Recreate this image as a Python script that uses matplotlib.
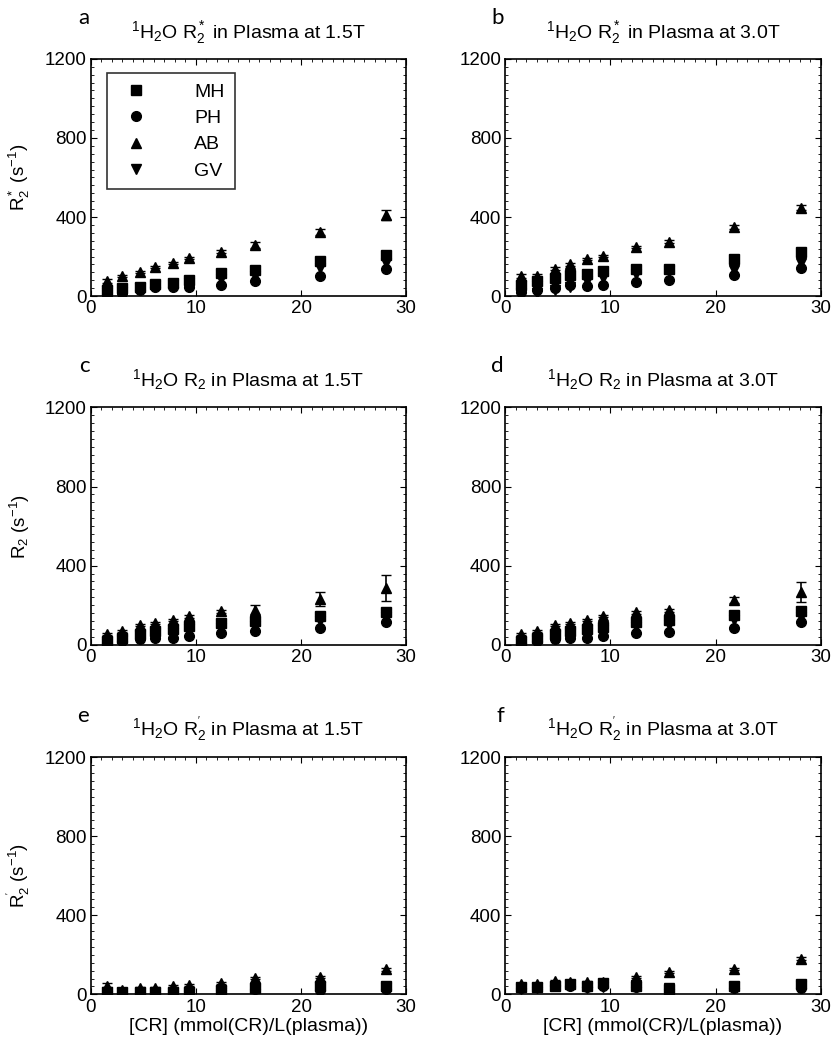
import numpy as np
import matplotlib
matplotlib.use("Agg")
import matplotlib.pyplot as plt
from matplotlib.ticker import MultipleLocator

plt.rcParams['font.family'] = ['Liberation Sans', 'DejaVu Sans']
plt.rcParams['mathtext.fontset'] = 'custom'
plt.rcParams['mathtext.rm'] = 'Liberation Sans'
plt.rcParams['mathtext.it'] = 'Liberation Sans'

# concentration of contrast reagent, mmol(CR)/L(plasma)
conc = [1.5, 3.0, 4.7, 6.1, 7.8, 9.3, 12.4, 15.6, 21.8, 28.1]
groups = ['MH', 'PH', 'AB', 'GV']

# panel a: R2* at 1.5T
a_MH = [31, 40, 48, 60, 65, 83, 117, 134, 177, 206]
a_PH = [5, 17, 31, 45, 45, 48, 57, 77, 100, 138]
a_AB = [74, 103, 120, 146, 169, 191, 225, 260, 323, 409]
a_GV = [14, 22, 40, 52, 57, 65, 86, 103, 143, 169]
a_AB_err = [10, 5, 5, 5, 5, 5, 8, 15, 15, 25]

# panel b: R2* at 3.0T
b_MH = [57, 74, 91, 108, 114, 126, 138, 138, 186, 224]
b_PH = [22, 31, 40, 57, 52, 57, 69, 83, 107, 143]
b_AB = [100, 103, 138, 160, 186, 203, 246, 275, 349, 447]
b_GV = [14, 17, 31, 48, 74, 91, 114, 126, 131, 169]
b_AB_err = [10, 8, 8, 8, 5, 5, 5, 8, 10, 12]

# panel c: R2 at 1.5T
c_MH = [17, 35, 52, 69, 78, 95, 112, 121, 147, 164]
c_PH = [9, 17, 29, 35, 35, 43, 57, 69, 86, 116]
c_AB = [52, 69, 98, 109, 126, 143, 168, 173, 233, 285]
c_GV = [12, 26, 43, 52, 60, 78, 86, 95, 121, 138]
c_AB_err = [5, 5, 5, 5, 5, 8, 10, 30, 35, 65]

# panel d: R2 at 3.0T
d_MH = [17, 35, 55, 69, 80, 92, 115, 125, 150, 168]
d_PH = [9, 17, 29, 35, 35, 43, 57, 66, 86, 116]
d_AB = [52, 69, 98, 112, 126, 143, 164, 173, 225, 268]
d_GV = [12, 26, 43, 52, 60, 75, 90, 100, 125, 140]
d_AB_err = [5, 5, 5, 5, 5, 5, 8, 10, 15, 50]

# panel e: R2' at 1.5T
e_MH = [14, 14, 10, 10, 14, 14, 22, 31, 40, 40]
e_PH = [8, 8, 8, 8, 12, 15, 20, 25, 20, 25]
e_AB = [40, 22, 31, 31, 40, 48, 57, 83, 87, 126]
e_GV = [10, 8, 6, 6, 8, 12, 15, 30, 35, 30]
e_AB_err = [15, 5, 5, 5, 5, 5, 5, 5, 5, 8]

# panel f: R2' at 3.0T
f_MH = [35, 35, 43, 52, 43, 57, 43, 26, 43, 52]
f_PH = [30, 35, 45, 40, 35, 40, 35, 25, 30, 30]
f_AB = [52, 52, 69, 60, 60, 60, 86, 112, 130, 181]
f_GV = [25, 30, 40, 45, 30, 35, 45, 30, 35, 40]
f_AB_err = [5, 5, 5, 5, 5, 5, 5, 5, 5, 8]

letters = ['a', 'b', 'c', 'd', 'e', 'f']
titles = [r'$^1\mathregular{H_2O\ R_2^*}$ in Plasma at 1.5T',
          r'$^1\mathregular{H_2O\ R_2^*}$ in Plasma at 3.0T',
          r'$^1\mathregular{H_2O\ R_2}$ in Plasma at 1.5T',
          r'$^1\mathregular{H_2O\ R_2}$ in Plasma at 3.0T',
          r"$^1\mathregular{H_2O\ R_2^{'}}$ in Plasma at 1.5T",
          r"$^1\mathregular{H_2O\ R_2^{'}}$ in Plasma at 3.0T"]
ylabels = [r'$\mathregular{R_2^*\ (s^{-1})}$', None,
           r'$\mathregular{R_2\ (s^{-1})}$', None,
           r"$\mathregular{R_2^{'}\ (s^{-1})}$", None]
xlabel = '[CR] (mmol(CR)/L(plasma))'

panels = [(a_MH, a_PH, a_AB, a_GV, a_AB_err),
          (b_MH, b_PH, b_AB, b_GV, b_AB_err),
          (c_MH, c_PH, c_AB, c_GV, c_AB_err),
          (d_MH, d_PH, d_AB, d_GV, d_AB_err),
          (e_MH, e_PH, e_AB, e_GV, e_AB_err),
          (f_MH, f_PH, f_AB, f_GV, f_AB_err)]

markers = ['s', 'o', '^', 'v']

fig = plt.figure(figsize=(8.34, 10.5), dpi=100)
lefts = [0.109, 0.606]
bottoms = [0.718, 0.386, 0.053]
height = 0.226
width = 0.378

for i, pdata in enumerate(panels):
    row, col = divmod(i, 2)
    ax = fig.add_axes([lefts[col], bottoms[row], width, height])
    MH, PH, AB, GV, ABerr = pdata
    for vals, m, g in zip([MH, PH, AB, GV], markers, groups):
        ax.plot(conc, vals, linestyle='none', marker=m, color='black',
                markersize=7, label=g)
    ax.errorbar(conc, AB, yerr=ABerr, fmt='none', ecolor='black',
                elinewidth=1.2, capsize=3.5)
    ax.set_xlim(0, 30)
    ax.set_ylim(0, 1200)
    ax.set_xticks([0, 10, 20, 30])
    ax.set_yticks([0, 400, 800, 1200])
    ax.yaxis.set_minor_locator(MultipleLocator(40))
    ax.xaxis.set_minor_locator(MultipleLocator(1))
    ax.tick_params(which='both', direction='in', top=True, right=True,
                   labelsize=13.5, colors='black', pad=3)
    ax.tick_params(which='major', length=4)
    ax.tick_params(which='minor', length=2)
    ax.tick_params(axis='x', which='minor', bottom=False)
    for s in ax.spines.values():
        s.set_linewidth(1.2)
    ax.set_title(titles[i], fontsize=14, pad=15)
    ax.text(-0.005, 1.148, letters[i], transform=ax.transAxes, fontsize=16,
            ha='right', va='baseline', family=['Lato', 'DejaVu Sans'])
    if ylabels[i]:
        ax.set_ylabel(ylabels[i], fontsize=13.5, labelpad=9)
    if row == 2:
        ax.set_xlabel(xlabel, fontsize=14, labelpad=2)
    if i == 0:
        leg = ax.legend(loc='upper left', frameon=True, fancybox=False,
                        edgecolor='black', fontsize=14, labelspacing=0.45,
                        handletextpad=2.0, borderpad=0.5, numpoints=1,
                        bbox_to_anchor=(0.02, 0.98))
        leg.get_frame().set_linewidth(1.2)

fig.savefig('out.png', dpi=100)
